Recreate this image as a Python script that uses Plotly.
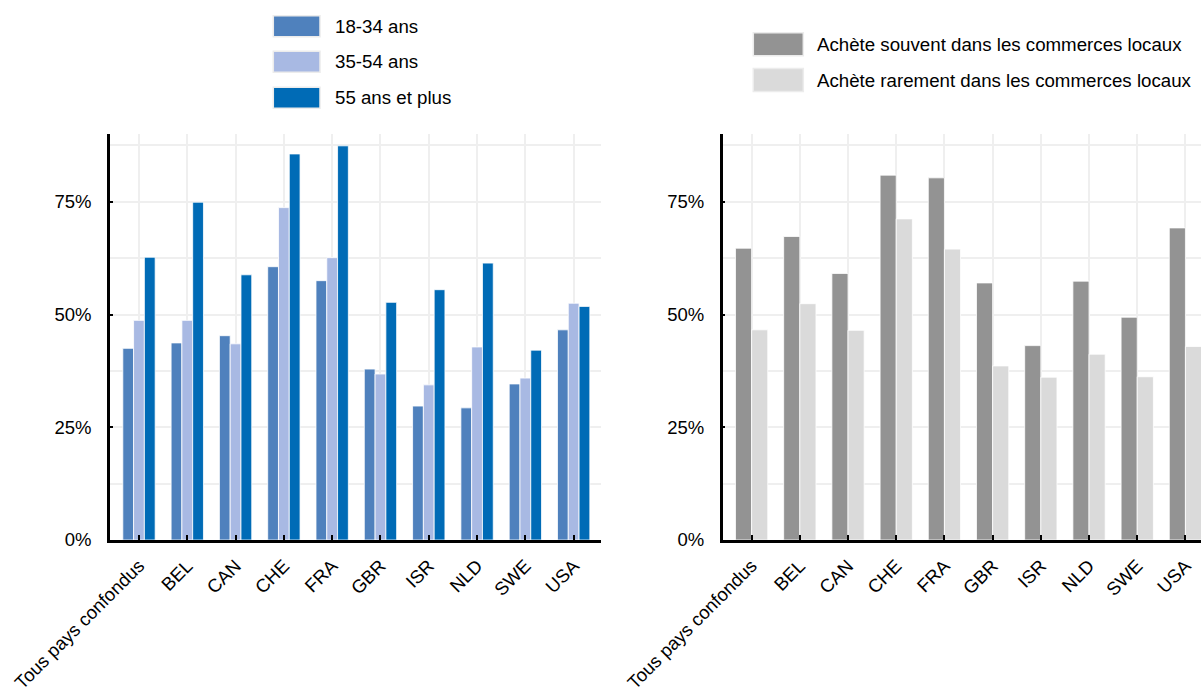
import plotly.graph_objects as go

# ---- data -------------------------------------------------------------
categories = ["Tous pays confondus", "BEL", "CAN", "CHE", "FRA",
              "GBR", "ISR", "NLD", "SWE", "USA"]

age_18_34 = [42.5, 43.7, 45.3, 60.6, 57.5, 37.9, 29.7, 29.3, 34.6, 46.6]
age_35_54 = [48.7, 48.7, 43.5, 73.7, 62.6, 36.8, 34.4, 42.8, 35.9, 52.5]
age_55_plus = [62.7, 74.9, 58.8, 85.6, 87.4, 52.7, 55.5, 61.4, 42.1, 51.8]

buys_often = [64.7, 67.3, 59.1, 80.9, 80.3, 57.0, 43.1, 57.4, 49.4, 69.2]
buys_rarely = [46.6, 52.4, 46.5, 71.2, 64.5, 38.6, 36.1, 41.2, 36.2, 42.9]

y_ticks = [0, 25, 50, 75]
y_tick_labels = ["0%", "25%", "50%", "75%"]

left_series = [
    ("18-34 ans", age_18_34, "#4f81bd"),
    ("35-54 ans", age_35_54, "#a8b9e3"),
    ("55 ans et plus", age_55_plus, "#006bb6"),
]
right_series = [
    ("Achète souvent dans les commerces locaux", buys_often, "#939393"),
    ("Achète rarement dans les commerces locaux", buys_rarely, "#dadada"),
]

FONT = "Liberation Sans Narrow, Arial Narrow, Liberation Sans, Arial, sans-serif"
W, H = 1201, 693
GRID = "#efefef"

fig = go.Figure()

for name, vals, col in left_series:
    fig.add_trace(go.Bar(
        x=categories, y=vals, name=name, xaxis="x", yaxis="y",
        marker=dict(color=col, line=dict(color="white", width=0.8)),
        offsetgroup=name, showlegend=False,
    ))

for name, vals, col in right_series:
    fig.add_trace(go.Bar(
        x=categories, y=vals, name=name, xaxis="x2", yaxis="y2",
        marker=dict(color=col, line=dict(color="white", width=0.8)),
        offsetgroup=name, showlegend=False,
    ))


def px_x(p):
    return p / W


def px_y(p):
    return 1 - p / H


y_dom = [px_y(540), px_y(134.1)]

common_x = dict(
    type="category", showline=True, linecolor="black", linewidth=2.5,
    ticks="inside", ticklen=5, tickwidth=2, tickcolor="black",
    tickangle=-45, showgrid=True, gridcolor=GRID, gridwidth=1.5,
    tickfont=dict(family=FONT, size=18.5, color="black"),
    ticklabelstandoff=5,
    automargin=False, zeroline=False, fixedrange=True,
)
common_y = dict(
    range=[0, 90], tickmode="array", tickvals=y_ticks, ticktext=y_tick_labels,
    showline=True, linecolor="black", linewidth=2.5,
    ticks="inside", ticklen=3, tickwidth=1.5, tickcolor="black",
    showgrid=True, gridcolor=GRID, gridwidth=1.5,
    minor=dict(dtick=12.5, showgrid=True, gridcolor=GRID, gridwidth=1.5),
    tickfont=dict(family=FONT, size=18.5, color="black"),
    ticklabelstandoff=12,
    automargin=False, zeroline=False, fixedrange=True,
)

fig.update_layout(
    width=W, height=H,
    margin=dict(l=0, r=0, t=0, b=0),
    paper_bgcolor="white", plot_bgcolor="white",
    barmode="group", bargap=0.33, bargroupgap=0,
    font=dict(family=FONT, color="black"),
    xaxis=dict(common_x, domain=[px_x(110), px_x(601)], range=[-0.6, 9.566],
               anchor="y"),
    yaxis=dict(common_y, domain=y_dom, anchor="x"),
    xaxis2=dict(common_x, domain=[px_x(722.7), 1], range=[-0.6, 9.323],
                anchor="y2"),
    yaxis2=dict(common_y, domain=y_dom, anchor="x2"),
)

# ---- legends drawn as swatches + text ---------------------------------
shapes, annotations = [], []
legend_blocks = [
    (left_series, 273.3, 320.0, 332.7, [26.2, 61.7, 97.8], 21),
    (right_series, 753.3, 803.3, 815.0, [44.3, 80.0], 23),
]
for series, x0, x1, xt, centers, h in legend_blocks:
    for (name, _, col), cy in zip(series, centers):
        shapes.append(dict(
            type="rect", xref="paper", yref="paper",
            x0=px_x(x0), x1=px_x(x1),
            y0=px_y(cy + h / 2), y1=px_y(cy - h / 2),
            fillcolor=col, line=dict(color="#ececec", width=1.5),
        ))
        annotations.append(dict(
            text=name, xref="paper", yref="paper",
            x=px_x(xt), y=px_y(cy), xanchor="left", yanchor="middle",
            showarrow=False, font=dict(family=FONT, size=18.7, color="black"),
        ))

fig.update_layout(shapes=shapes, annotations=annotations)

fig.write_html("out.html")
